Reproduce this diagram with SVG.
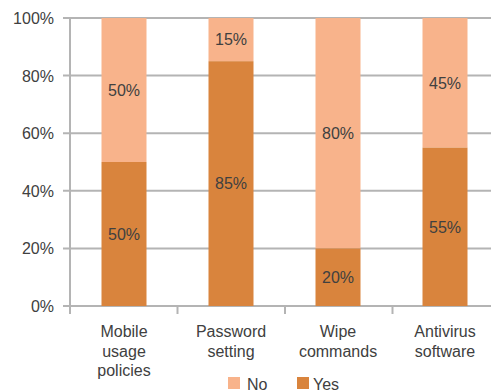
<svg xmlns="http://www.w3.org/2000/svg" width="491" height="392" viewBox="0 0 491 392">
  <style>
    .grid { stroke: #b4b4b4; stroke-width: 2; fill: none; }
    .no { fill: #f8b38b; }
    .yes { fill: #d9843d; }
    text { font-family: "Liberation Sans", Arial, sans-serif; font-size: 16px; fill: #404040; }
    .ylab { text-anchor: end; }
    .mid { text-anchor: middle; }
  </style>
  <rect width="491" height="392" fill="#ffffff"/>

  <!-- gridlines and axes -->
  <g id="axes">
    <line class="grid" x1="63" y1="18" x2="491" y2="18"/>
    <line class="grid" x1="63" y1="75.6" x2="491" y2="75.6"/>
    <line class="grid" x1="63" y1="133.2" x2="491" y2="133.2"/>
    <line class="grid" x1="63" y1="190.8" x2="491" y2="190.8"/>
    <line class="grid" x1="63" y1="248.4" x2="491" y2="248.4"/>
    <line class="grid" x1="63" y1="306" x2="491" y2="306"/>
    <line class="grid" x1="70" y1="18" x2="70" y2="314"/>
    <line class="grid" x1="177.5" y1="306" x2="177.5" y2="314"/>
    <line class="grid" x1="285" y1="306" x2="285" y2="314"/>
    <line class="grid" x1="392.5" y1="306" x2="392.5" y2="314"/>
    <text class="ylab" x="54" y="24">100%</text>
    <text class="ylab" x="54" y="81.6">80%</text>
    <text class="ylab" x="54" y="139.2">60%</text>
    <text class="ylab" x="54" y="196.8">40%</text>
    <text class="ylab" x="54" y="254.4">20%</text>
    <text class="ylab" x="54" y="312">0%</text>
  </g>

  <g id="bar-mobile">
    <rect class="no" x="101.5" y="18" width="45" height="144"/>
    <rect class="yes" x="101.5" y="162" width="45" height="144"/>
    <text class="mid" x="124" y="95.7">50%</text>
    <text class="mid" x="124" y="239.7">50%</text>
    <text class="mid" x="124" y="337">Mobile</text>
    <text class="mid" x="124" y="356.5">usage</text>
    <text class="mid" x="124" y="376">policies</text>
  </g>

  <g id="bar-password">
    <rect class="no" x="208.5" y="18" width="45" height="43.2"/>
    <rect class="yes" x="208.5" y="61.2" width="45" height="244.8"/>
    <text class="mid" x="231" y="45.3">15%</text>
    <text class="mid" x="231" y="189.3">85%</text>
    <text class="mid" x="231" y="337">Password</text>
    <text class="mid" x="231" y="356.5">setting</text>
  </g>

  <g id="bar-wipe">
    <rect class="no" x="315.5" y="18" width="45" height="230.4"/>
    <rect class="yes" x="315.5" y="248.4" width="45" height="57.6"/>
    <text class="mid" x="338" y="138.9">80%</text>
    <text class="mid" x="338" y="282.9">20%</text>
    <text class="mid" x="338" y="337">Wipe</text>
    <text class="mid" x="338" y="356.5">commands</text>
  </g>

  <g id="bar-antivirus">
    <rect class="no" x="422.5" y="18" width="45" height="129.6"/>
    <rect class="yes" x="422.5" y="147.6" width="45" height="158.4"/>
    <text class="mid" x="445" y="88.5">45%</text>
    <text class="mid" x="445" y="232.5">55%</text>
    <text class="mid" x="445" y="337">Antivirus</text>
    <text class="mid" x="445" y="356.5">software</text>
  </g>

  <g id="legend">
    <rect class="no" x="228" y="377" width="12" height="12"/>
    <text x="247" y="390">No</text>
    <rect class="yes" x="297" y="377" width="12" height="12"/>
    <text x="313" y="390">Yes</text>
  </g>
</svg>
